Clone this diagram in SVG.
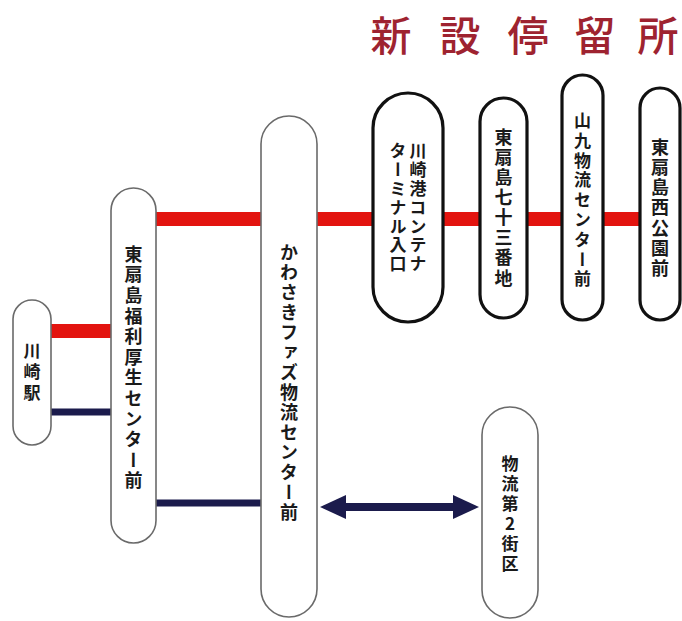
<svg xmlns="http://www.w3.org/2000/svg" width="682" height="621" viewBox="0 0 682 621">
<style>
.bg{fill:#ffffff}
.title{font-family:"Noto Sans CJK JP","Noto Sans CJK SC",sans-serif;font-size:41px;font-weight:500;fill:#9e2330;text-anchor:middle}
.node-thin{fill:#ffffff;stroke:#6a6a6a;stroke-width:1.6}
.node-thick{fill:#ffffff;stroke:#111111;stroke-width:3.2}
.vt{font-family:"Noto Sans CJK JP","Noto Sans CJK SC",sans-serif;font-weight:bold;fill:#1a1a1a;writing-mode:vertical-rl;text-orientation:upright;text-anchor:start}
.red{stroke:#e3140f;stroke-width:14;fill:none}
.navy{stroke:#1b1b4c;stroke-width:7;fill:none}
.arrow{stroke:#1b1b4c;stroke-width:8;fill:none}
</style>
<rect class="bg" x="0" y="0" width="682" height="621"/>
<g id="title">
<text class="title" x="391" y="51">新</text>
<text class="title" x="460" y="51">設</text>
<text class="title" x="528" y="51">停</text>
<text class="title" x="595" y="51">留</text>
<text class="title" x="658" y="51">所</text>
</g>
<g id="connectors">
<line class="red" x1="155" y1="219" x2="642" y2="219"/>
<line class="red" x1="50" y1="331" x2="112" y2="331"/>
<line class="navy" x1="50" y1="412" x2="112" y2="412"/>
<line class="navy" x1="155" y1="503" x2="262" y2="503"/>
<line class="arrow" x1="342" y1="507" x2="456" y2="507"/>
<path d="M320,507 L346,495 L346,519 Z" fill="#1b1b4c"/>
<path d="M479,507 L453,495 L453,519 Z" fill="#1b1b4c"/>
</g>
<g id="kawasaki-eki">
<rect class="node-thin" x="13" y="300" width="38" height="145" rx="19"/>
<text class="vt" x="32" y="342" font-size="17" letter-spacing="4">川崎駅</text>
</g>
<g id="higashiogishima-fukuri">
<rect class="node-thin" x="111" y="188" width="45" height="355" rx="22.5"/>
<text class="vt" x="133.5" y="245" font-size="18" letter-spacing="2.6">東扇島福利厚生センター前</text>
</g>
<g id="kawasaki-faz">
<rect class="node-thin" x="261" y="116" width="56" height="501" rx="28"/>
<text class="vt" x="289" y="243" font-size="18" letter-spacing="2" font-weight="500">かわさきファズ物流センター前</text>
</g>
<g id="kawasakiko-container">
<rect class="node-thick" x="373" y="93" width="70" height="229" rx="35"/>
<text class="vt" x="418" y="142" font-size="17" letter-spacing="1.9">川崎港コンテナ</text>
<text class="vt" x="398" y="142" font-size="17" letter-spacing="1.9">ターミナル入口</text>
</g>
<g id="higashiogishima-73">
<rect class="node-thick" x="480" y="98" width="47" height="220" rx="23.5"/>
<text class="vt" x="503.5" y="128" font-size="18" letter-spacing="2.1">東扇島七十三番地</text>
</g>
<g id="sankyu-butsuryu">
<rect class="node-thick" x="562" y="75" width="41" height="245" rx="20.5"/>
<text class="vt" x="582.5" y="112" font-size="17" letter-spacing="2.8">山九物流センター前</text>
</g>
<g id="higashiogishima-nishi-koen">
<rect class="node-thick" x="640" y="88" width="40" height="232" rx="20"/>
<text class="vt" x="660" y="138" font-size="18" letter-spacing="2.2">東扇島西公園前</text>
</g>
<g id="butsuryu-dai2">
<rect class="node-thin" x="482" y="407" width="56" height="211" rx="28"/>
<text class="vt" x="510" y="455" font-size="17" letter-spacing="3">物流第2街区</text>
</g>
</svg>
